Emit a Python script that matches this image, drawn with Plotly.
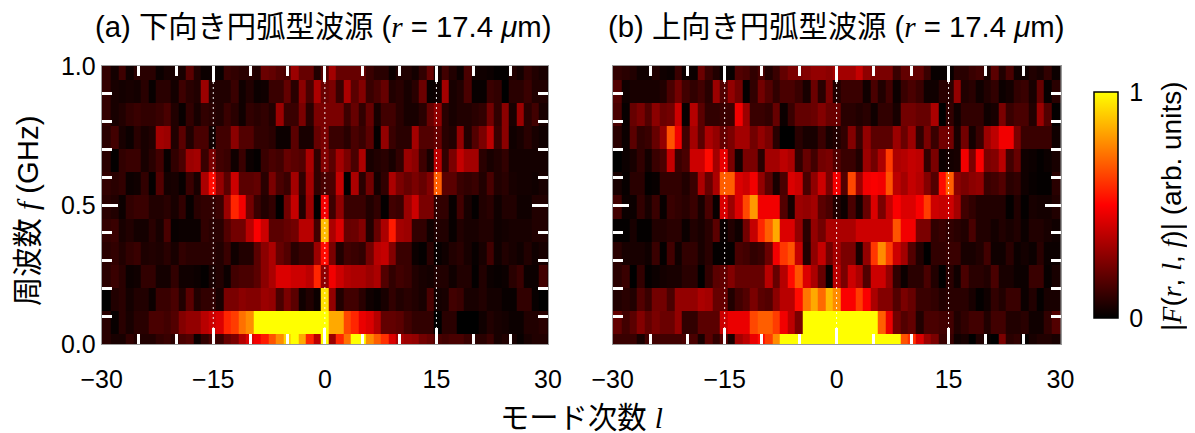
import numpy as np
import plotly.graph_objects as go

# mode orders (columns), frequencies in GHz (rows, bottom to top)
orders = list(range(-29, 30))
freqs = [-0.005, 0.078, 0.161, 0.244, 0.327, 0.41, 0.493, 0.576, 0.659, 0.742, 0.825, 0.908, 0.991]

# panel (a): amplitude in percent of full scale, columns l = -29..29
a_r0 = [10,6,6,12,8,8,8,12,14,10,18,20,3,12,18,14,25,30,44,52,55,60,70,80,92,100,85,62,46, 100, 38,62,75,100,100,80,72,64,52,42,38,36,28,25,18,16,18,18,14,10,10,14,6,8,6,2,6,8,8]
a_r1 = [10,2,10,6,10,10,18,18,16,20,32,36,36,45,50,52,62,66,75,80,100,100,100,100,100,100,100,100,100, 100, 85,85,68,62,54,52,44,24,24,22,16,12,12,12,0,10,10,0,0,0,4,8,6,5,3,3,8,8,10]
a_r2 = [0,8,10,5,8,8,3,14,14,18,8,22,8,12,12,6,30,30,34,32,32,38,36,18,30,22,4,8,3, 95, 36,8,16,16,10,4,2,6,12,8,10,8,6,18,5,6,16,14,6,6,8,5,5,2,2,12,12,2,0]
a_r3 = [10,14,10,3,4,12,12,5,5,12,4,4,3,1,6,8,3,16,18,18,22,34,42,52,52,50,50,46,62, 35, 55,50,44,42,42,38,42,20,12,16,14,8,6,5,8,8,4,8,8,1,8,3,2,3,10,14,3,3,16]
a_r4 = [10,12,8,12,14,7,8,7,10,6,12,10,10,10,10,8,14,4,8,8,22,34,42,25,20,10,14,14,38, 58, 30,8,16,14,12,28,45,48,32,14,14,3,1,10,2,4,8,10,6,2,6,16,4,8,6,4,8,4,6]
a_r5 = [12,14,6,8,5,5,10,6,18,2,3,3,3,12,10,10,20,28,28,45,56,50,22,22,25,28,45,45,16, 88, 42,52,25,26,32,8,25,42,60,40,38,12,12,4,8,8,2,8,6,6,8,8,4,5,6,6,6,8,8]
a_r6 = [10,8,3,12,14,14,8,8,10,6,12,2,10,12,12,14,38,62,55,28,14,8,12,0,28,48,8,38,0, 55, 15,35,14,14,14,8,12,1,16,14,38,50,30,30,12,12,2,16,6,1,8,10,4,8,8,4,4,8,8]
a_r7 = [12,10,12,3,4,12,1,20,5,6,2,14,6,42,58,36,22,50,22,22,24,10,30,18,14,40,12,40,12, 18, 18,48,0,42,10,28,5,12,42,30,25,30,25,32,72,22,22,14,12,14,8,18,8,10,6,5,5,4,6]
a_r8 = [10,1,12,14,14,6,10,16,2,12,18,38,40,14,30,16,14,4,14,3,1,14,18,16,25,22,20,42,12, 32, 22,40,30,18,42,6,8,10,6,12,38,34,15,6,45,12,30,48,40,40,10,6,8,12,5,5,5,5,5]
a_r9 = [10,16,6,3,10,6,8,40,38,8,22,8,18,18,4,16,16,34,20,20,12,12,10,3,3,22,6,6,25, 30, 14,14,10,18,14,22,1,36,14,10,10,40,20,20,25,10,8,36,8,20,30,46,14,34,4,6,10,6,4]
a_r10 = [12,6,8,12,14,12,12,14,18,8,2,12,6,12,10,8,14,10,4,12,10,12,8,38,14,14,30,10,30, 30, 30,30,15,25,12,25,6,16,16,10,6,6,10,25,35,10,6,8,8,10,12,28,12,34,6,38,10,16,6]
a_r11 = [12,6,5,6,5,10,2,10,10,5,15,10,8,38,8,8,8,14,4,8,3,4,14,14,24,10,34,18,42, 26, 30,14,42,22,32,14,18,25,8,10,6,10,26,2,3,40,6,8,18,2,2,14,12,0,10,10,14,8,8]
a_r12 = [12,5,15,4,10,10,10,3,6,6,6,22,8,3,3,2,14,12,10,10,8,26,24,20,18,38,25,25,8, 20, 40,25,25,25,25,14,10,10,3,8,8,5,12,25,5,16,8,3,18,4,4,3,1,1,8,5,12,8,6]

# panel (b)
b_r0 = [14,14,14,6,16,16,16,16,16,18,18,6,22,12,22,6,40,46,54,58,66,80,100,100,100,100,100,100,100, 100, 100,100,100,100,100,100,100,100,70,64,52,38,30,14,14,4,6,0,8,2,0,30,10,12,1,6,8,8,6]
b_r1 = [24,16,22,32,24,30,26,26,36,12,12,22,22,22,50,54,54,54,68,72,72,66,55,46,30,100,100,100,100, 100, 100,100,100,100,100,72,54,28,20,24,8,18,18,16,16,8,12,16,16,8,16,16,8,8,10,4,4,12,20]
b_r2 = [8,10,8,20,14,28,28,18,36,36,36,42,40,25,25,8,16,20,30,22,20,34,45,45,58,76,85,74,88, 80, 56,56,66,56,42,32,32,20,30,25,14,14,12,8,10,10,10,6,1,4,12,8,14,14,3,8,1,6,6]
b_r3 = [10,14,0,12,1,3,5,6,6,10,10,0,12,22,24,32,25,25,25,25,45,25,44,58,70,52,42,25,2, 45, 30,50,42,20,50,50,36,12,3,10,10,18,8,0,10,4,18,10,10,8,18,6,6,3,3,14,14,2,6]
b_r4 = [10,6,6,6,4,14,1,16,4,12,12,6,10,1,1,1,18,16,12,14,26,55,65,70,48,8,35,48,28, 40, 30,30,6,36,65,80,66,50,40,20,8,0,12,12,14,14,6,6,8,16,4,4,10,3,5,3,10,3,3]
b_r5 = [1,1,6,1,1,8,8,10,10,3,8,6,10,22,2,8,4,28,48,62,72,85,52,52,36,10,36,28,42, 42, 42,42,50,50,50,50,50,70,55,55,30,30,12,14,12,10,8,18,8,8,5,8,6,8,3,8,8,6,4]
b_r6 = [16,3,3,12,6,14,2,14,12,10,14,6,18,2,52,38,52,68,82,55,55,55,20,5,38,36,40,22,18, 8, 3,18,5,25,52,30,48,56,52,52,56,66,50,48,50,40,16,12,8,8,8,8,1,8,1,6,5,5,8]
b_r7 = [6,2,10,10,1,2,12,12,12,8,14,42,25,42,72,72,52,50,55,36,22,6,18,52,50,18,35,50,30, 55, 20,68,38,55,56,55,70,46,40,48,44,32,20,58,72,34,30,34,36,14,16,20,10,12,4,2,1,1,10]
b_r8 = [0,3,6,12,5,14,18,48,14,18,50,50,58,40,54,30,5,30,30,10,40,40,46,42,12,25,16,28,30, 20, 14,14,8,38,28,42,66,42,44,48,46,12,30,3,5,6,55,30,56,30,32,45,16,25,4,3,1,3,6]
b_r9 = [10,3,22,12,14,25,36,70,55,16,40,22,42,36,25,30,40,40,28,36,30,10,0,0,10,6,6,14,6, 8, 12,32,14,36,22,22,22,38,26,38,12,30,14,28,28,6,28,5,14,38,46,55,55,30,14,14,14,14,4]
b_r10 = [18,2,25,30,20,34,26,28,50,2,44,22,12,12,14,14,55,38,14,14,12,25,3,14,24,24,26,32,26, 26, 10,10,8,10,4,12,12,6,28,28,25,25,42,0,12,4,12,12,12,4,6,30,14,18,18,8,38,20,1]
b_r11 = [20,4,6,6,6,6,8,18,28,16,12,16,10,38,20,36,28,1,12,28,20,12,18,18,14,6,26,10,30, 8, 14,14,14,4,18,8,16,3,14,18,14,4,4,10,10,36,8,10,4,8,12,3,5,12,14,6,25,2,10]
b_r12 = [12,10,8,4,4,8,4,3,14,3,3,26,14,8,2,2,20,18,12,18,8,14,24,30,30,32,36,36,34, 40, 40,40,48,35,30,30,30,14,24,24,24,14,2,2,2,10,10,14,16,6,22,8,18,4,4,8,6,12,3]

# axis and text content
xtick_vals = [-30, -15, 0, 15, 30]
xtick_text = ["−30", "−15", "0", "15", "30"]
ytick_vals = [0, 0.5, 1]
ytick_text = ["0.0", "0.5", "1.0"]
guide_orders = [-15, 0, 15]

# my colour readings ran high in the dark reds: readings below are corrected against the colour bar
reading = [0, 50, 60, 100]
corrected = [0, 40, 55, 100]

A = [a_r0, a_r1, a_r2, a_r3, a_r4, a_r5, a_r6, a_r7, a_r8, a_r9, a_r10, a_r11, a_r12]
B = [b_r0, b_r1, b_r2, b_r3, b_r4, b_r5, b_r6, b_r7, b_r8, b_r9, b_r10, b_r11, b_r12]
for name, M in (("a", A), ("b", B)):
    for i, r in enumerate(M):
        assert len(r) == 59, f"{name}_r{i} has {len(r)}"

# the page adds an 8 px body margin, so the figure is 8 px smaller and all page positions shift by 8
OFF = 8
W, H = 1195 - OFF, 433 - OFF
def fx(px): return (px - OFF) / W
def fy(py): return 1 - (py - OFF) / H

SANS = "Liberation Sans, Arial, Noto Sans CJK JP, sans-serif"
SERIF = "Liberation Serif"
FS = 25
TS = 29.3
HOT = [[0, "#000000"], [0.5, "#ff0000"], [1, "#ffff00"]]

# column edges: columns are slightly wider than one order, the outer ones reach the frame
inner = (np.arange(-29, 29) + 0.5) * 1.0095
x_edges = np.concatenate([[-30], inner, [30]])

fig = go.Figure()
for idx, (M, show) in enumerate(((A, False), (B, True))):
    suffix = "" if idx == 0 else "2"
    fig.add_trace(go.Heatmap(
        x=x_edges, y=freqs, z=np.interp(np.array(M, dtype=float), reading, corrected) / 100,
        xaxis="x" + suffix, yaxis="y" + suffix,
        zmin=0, zmax=1, colorscale=HOT, showscale=show, hoverinfo="skip",
        colorbar=dict(
            x=fx(1094), xanchor="left", y=fy(318), yanchor="bottom",
            xref="paper", yref="paper",
            thickness=24, thicknessmode="pixels",
            len=226 / H, lenmode="fraction",
            tickvals=[0, 1], ticktext=["0", "1"], ticks="outside", ticklen=6,
            tickcolor="rgba(0,0,0,0)", tickfont=dict(family=SANS, size=FS, color="black"),
            outlinecolor="black", outlinewidth=1.5, ypad=0, xpad=0,
        ) if show else None,
    ))

tick = dict(ticks="inside", ticklen=16, tickwidth=2.7, tickcolor="white",
            showline=True, linecolor="#9a9a9a", linewidth=1, mirror="ticks",
            showgrid=False, zeroline=False,
            tickfont=dict(family=SANS, size=FS, color="black"))
xkw = dict(range=[-30, 30], tickvals=xtick_vals, ticktext=xtick_text, ticklabelstandoff=13,
           minor=dict(tickmode="array", tickvals=[-25, -20, -10, -5, 5, 10, 20, 25],
                      ticks="inside", ticklen=10, tickwidth=2.7, tickcolor="white", showgrid=False), **tick)
ykw = dict(range=[0, 1], tickvals=ytick_vals, ticktext=ytick_text,
           minor=dict(tickmode="array", tickvals=[0.1, 0.2, 0.3, 0.4, 0.6, 0.7, 0.8, 0.9],
                      ticks="inside", ticklen=10, tickwidth=2.7, tickcolor="white", showgrid=False), **tick)

top, bottom = 66, 344
fig.update_layout(
    width=W, height=H, autosize=False, margin=dict(l=0, r=0, t=0, b=0, autoexpand=False),
    paper_bgcolor="white", plot_bgcolor="black",
    font=dict(family=SANS, size=FS, color="black"),
    xaxis=dict(domain=[fx(101.7), fx(548)], anchor="y", **xkw),
    yaxis=dict(domain=[fy(bottom), fy(top)], anchor="x", **ykw),
    xaxis2=dict(domain=[fx(612.7), fx(1060.5)], anchor="y2", **xkw),
    yaxis2=dict(domain=[fy(bottom), fy(top)], anchor="x2", showticklabels=False, **ykw),
)

for sx, sy in (("x", "y"), ("x2", "y2")):
    for g in guide_orders:
        fig.add_shape(type="line", xref=sx, yref=sy, x0=g, x1=g, y0=0, y1=1, layer="above",
                      line=dict(color="rgba(255,255,255,0.9)", width=1, dash="2px,3px"))

def serif(t):
    return f'<span style="font-family:{SERIF}"><i>{t}</i></span>'

def note(px, py, text, angle=0, size=TS):
    fig.add_annotation(x=fx(px), y=fy(py), xref="paper", yref="paper", text=text, showarrow=False,
                       textangle=angle, xanchor="center", yanchor="middle",
                       font=dict(family=SANS, size=size, color="black"))

note(323, 27, f"(a) 下向き円弧型波源 ({serif('r')} = 17.4 <i>μ</i>m)")
note(836, 27, f"(b) 上向き円弧型波源 ({serif('r')} = 17.4 <i>μ</i>m)")
note(27, 211, f"周波数 {serif('f')} (GHz)", angle=-90)
note(581, 417, f"モード次数 {serif('l')}")
note(1172, 206, f"|{serif('F')}({serif('r')}, {serif('l')}, {serif('f')})| (arb. units)", angle=-90, size=28)

fig.write_html("out.html")
